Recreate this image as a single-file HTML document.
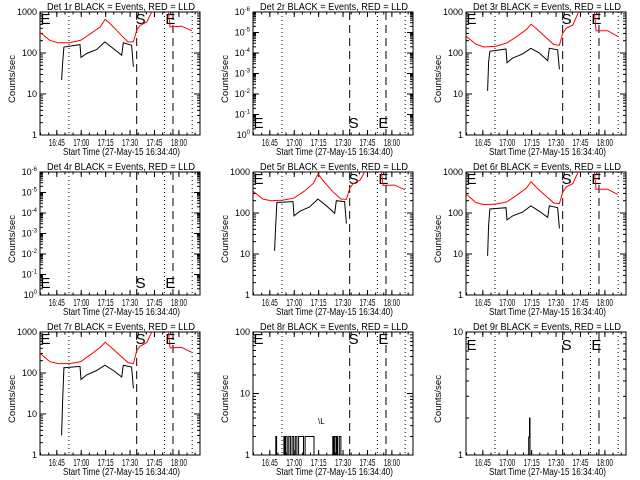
<!DOCTYPE html>
<html><head><meta charset="utf-8"><style>
html,body{margin:0;padding:0;background:#fff;}
svg{display:block;font-family:"Liberation Sans",sans-serif;}
</style></head><body>
<svg id="chart" width="640" height="480" viewBox="0 0 640 480"></svg>
<script>
// minutes since 16:34:40
const redTimes = [0,6,11,18,25,31,37,40,43,49,54,57.4,59.4,61.5,65.6,68.6,71.7,77.9,78.9,79.9,87,93.2];
const red1 = [316,204,178,178,204,295,433,660,525,295,187,187,360,470,570,1000,2000,2000,1000,433,450,350];
const red3 = [257,165,140,145,175,250,370,500,400,240,160,155,300,400,480,900,2000,2000,1000,350,350,255];
const red5 = [340,220,200,205,230,330,520,900,620,330,220,215,400,520,620,1000,2000,2000,1000,470,480,370];
const red6 = [290,180,160,165,185,270,400,580,430,260,175,170,320,430,520,950,2000,2000,1000,380,380,285];
const red7 = [300,190,170,170,190,280,420,560,450,270,180,170,350,450,550,1000,2000,2000,1000,410,420,320];
const blackTimes = [13.3,13.9,14.7,24.6,25.2,28.7,34.8,39.9,45.1,50.2,51.2,56.3,57.4];
const black1 = [22,55,140,160,78,97,121,187,128,88,177,155,46];
const black3 = [12,60,110,125,58,75,95,130,100,65,130,120,40];
const black5 = [12,45,180,190,85,110,140,220,150,98,200,190,55];
const black6 = [9,50,125,135,68,85,105,150,110,78,150,135,42];
const black7 = [3,20,135,145,70,90,115,155,115,80,155,140,42];
const stepTimes8 = [0,14,14.5,19,19.5,20,21,22,23,24,25,26,27,28,31,32,36,37.5,49,49.5,50,51,51.5,52,53,54,98];
const stepVals8 = [1,2,1,2,1,2,1,2,1,2,1,2,1,2,1,2,2,1,2,1,2,1,2,1,2,1,1];
const stepTimes9 = [0,38.5,39,39.3,39.6,98];
const stepVals9 = [1,1.4,2,1,1,1];
const tickLabels = ["16:45","17:00","17:15","17:30","17:45","18:00"];
const tickTimes = [10.33,25.33,40.33,55.33,70.33,85.33];
const dottedTimes = [17.8,76.4,93.5];
const dashedTimes = [59.4,81.7];

const NS="http://www.w3.org/2000/svg";
const svg=document.getElementById('chart');
function mk(tag,attrs,parent){const e=document.createElementNS(NS,tag);for(const k in attrs)e.setAttribute(k,attrs[k]);(parent||svg).appendChild(e);return e;}

const panels=[
 {n:1,ox:0,oy:0,lo:0,hi:3,red:red1,black:black1,lab:'top'},
 {n:2,ox:213,oy:0,lo:0,hi:6,exp:true,lab:'bottom'},
 {n:3,ox:426,oy:0,lo:0,hi:3,red:red3,black:black3,lab:'top'},
 {n:4,ox:0,oy:160,lo:0,hi:6,exp:true,lab:'bottom'},
 {n:5,ox:213,oy:160,lo:0,hi:3,red:red5,black:black5,lab:'top'},
 {n:6,ox:426,oy:160,lo:0,hi:3,red:red6,black:black6,lab:'top'},
 {n:7,ox:0,oy:320,lo:0,hi:3,red:red7,black:black7,lab:'top'},
 {n:8,ox:213,oy:320,lo:0,hi:2,st:stepTimes8,sv:stepVals8,lab:'top'},
 {n:9,ox:426,oy:320,lo:0,hi:1,st:stepTimes9,sv:stepVals9,lab:'mid'}
];
const L=40,R=200,T=12,B=135,TMAX=98.3;
panels.forEach(p=>{
  const g=mk('g',{transform:`translate(${p.ox},${p.oy})`});
  
  
  const xs=t=>L+t*(R-L)/TMAX;
  const ys=v=>B-(Math.log10(v)-p.lo)*(B-T)/(p.hi-p.lo);
  const clip=mk('clipPath',{id:'c'+p.n},g);mk('rect',{x:L,y:T,width:R-L,height:B-T},clip);
  const ti=mk('text',{x:47,y:10,'font-size':10.5,textLength:148,lengthAdjust:'spacingAndGlyphs'},g);
  ti.textContent=`Det ${p.n}r BLACK = Events, RED = LLD`;
  
  const yl=mk('text',{x:0,y:0,'text-anchor':'middle','font-size':9,textLength:48,lengthAdjust:'spacingAndGlyphs',transform:'translate(15,79) rotate(-90)'},g);
  yl.textContent='Counts/sec';
  
  const xl=mk('text',{x:63,y:155,'font-size':10.5,textLength:117,lengthAdjust:'spacingAndGlyphs'},g);
  xl.textContent='Start Time (27-May-15 16:34:40)';
  
  const bx=mk('rect',{x:L,y:T,width:R-L,height:B-T,fill:'none',stroke:'#000','stroke-width':1},g);
  
  tickTimes.forEach((t,i)=>{
    const x=xs(t);
    mk('line',{x1:x,x2:x,y1:B,y2:B-5,stroke:'#000'},g);mk('line',{x1:x,x2:x,y1:T,y2:T+5,stroke:'#000'},g);
    const tl=mk('text',{x:x-8,y:146,'font-size':10,textLength:16,lengthAdjust:'spacingAndGlyphs'},g);tl.textContent=tickLabels[i];
    
  });
  for(let t=0.33;t<TMAX;t+=5){const x=xs(t);mk('line',{x1:x,x2:x,y1:B,y2:B-2.5,stroke:'#000'},g);mk('line',{x1:x,x2:x,y1:T,y2:T+2.5,stroke:'#000'},g);}
  for(let d=p.lo;d<=p.hi;d++){
    const y=B-(d-p.lo)*(B-T)/(p.hi-p.lo);
    mk('line',{x1:L,x2:L+6,y1:y,y2:y,stroke:'#000'},g);mk('line',{x1:R,x2:R-6,y1:y,y2:y,stroke:'#000'},g);
    const lab=mk('text',{x:37,y:y+3,'text-anchor':'end','font-size':9},g);
    if(p.exp){lab.textContent='10';const ts=mk('tspan',{dy:-4,'font-size':6},lab);ts.textContent=(d===0?'0':'-'+d);}
    else lab.textContent=String(Math.pow(10,d));
    
    if(d<p.hi)for(let m=2;m<10;m++){const yy=B-(d+Math.log10(m)-p.lo)*(B-T)/(p.hi-p.lo);
      mk('line',{x1:L,x2:L+3,y1:yy,y2:yy,stroke:'#000'},g);mk('line',{x1:R,x2:R-3,y1:yy,y2:yy,stroke:'#000'},g);}
  }
  dottedTimes.forEach(t=>{const l=mk('line',{x1:xs(t),x2:xs(t),y1:T,y2:B,stroke:'#000','stroke-dasharray':'1,3'},g);
    });
  dashedTimes.forEach(t=>{const l=mk('line',{x1:xs(t),x2:xs(t),y1:T,y2:B,stroke:'#000','stroke-dasharray':'8,5'},g);
    });
  const ly=p.lab==='top'?24:(p.lab==='bottom'?128:30);
  [['E',L+0.5],['S',xs(dashedTimes[0])-1],['E',xs(dottedTimes[1])+1]].forEach(([s,x])=>{
    const tx=mk('text',{x:x,y:ly,'font-size':15,fill:'#000'},g);tx.textContent=s;
    });
  const cg=mk('g',{'clip-path':`url(#c${p.n})`},g);
  if(p.red){
    const d=redTimes.map((t,i)=>(i?'L':'M')+xs(t).toFixed(1)+','+ys(p.red[i]).toFixed(1)).join('');
    const pr=mk('path',{d:d,fill:'none',stroke:'#f00','stroke-width':1},cg);
    
    const db=blackTimes.map((t,i)=>(i?'L':'M')+xs(t).toFixed(1)+','+ys(p.black[i]).toFixed(1)).join('');
    const pb=mk('path',{d:db,fill:'none',stroke:'#000','stroke-width':1},cg);
    
  }
  if(p.st){
    let d='';
    p.st.forEach((t,i)=>{const x=xs(t).toFixed(1),y=ys(p.sv[i]).toFixed(1);
      if(i===0)d+='M'+x+','+y;else d+='H'+x+'V'+y;});
    const ps=mk('path',{d:d,fill:'none',stroke:'#000','stroke-width':1},cg);
    
  }
  if(p.n===8){const s=mk('text',{x:105,y:104,'font-size':8},g);s.textContent='\\L';
    }
});
</script>
</body></html>
